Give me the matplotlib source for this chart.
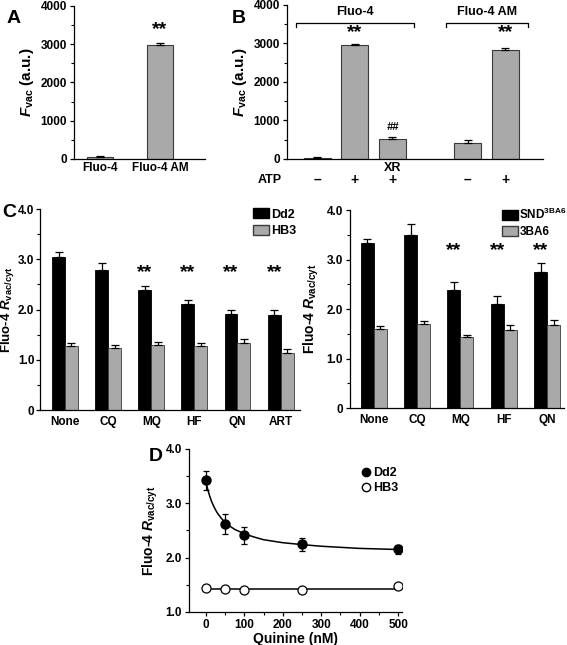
import matplotlib
matplotlib.use("Agg")
import matplotlib.pyplot as plt
from matplotlib.patches import Patch
from matplotlib.lines import Line2D
import numpy as np

plt.rcParams["font.family"] = ["Liberation Sans", "DejaVu Sans"]
plt.rcParams["font.weight"] = "bold"
plt.rcParams["axes.labelweight"] = "bold"
plt.rcParams["mathtext.fontset"] = "custom"
plt.rcParams["mathtext.rm"] = "Liberation Sans:bold"
plt.rcParams["mathtext.it"] = "Liberation Sans:italic:bold"
plt.rcParams["mathtext.bf"] = "Liberation Sans:bold"

# --- panel A
a_labels = ["Fluo-4", "Fluo-4 AM"]
a_vals = [40, 2980]
a_err = [30, 45]

# --- panel B
b_pos = [0, 1, 2, 4, 5]
b_vals = [30, 2950, 520, 420, 2840]
b_err = [25, 35, 55, 85, 35]
b_atp = ["\u2013", "+", "+", "\u2013", "+"]

# --- panel C (left)
cl_drugs = ["None", "CQ", "MQ", "HF", "QN", "ART"]
cl_dd2 = [3.05, 2.78, 2.38, 2.12, 1.91, 1.89]
cl_dd2_err = [0.10, 0.14, 0.08, 0.06, 0.08, 0.10]
cl_hb3 = [1.27, 1.23, 1.30, 1.27, 1.33, 1.14]
cl_hb3_err = [0.06, 0.07, 0.06, 0.06, 0.08, 0.07]
cl_stars = [2, 3, 4, 5]

# --- panel C (right)
cr_drugs = ["None", "CQ", "MQ", "HF", "QN"]
cr_snd = [3.33, 3.49, 2.38, 2.11, 2.74]
cr_snd_err = [0.08, 0.23, 0.17, 0.15, 0.19]
cr_3ba6 = [1.59, 1.70, 1.43, 1.57, 1.68]
cr_3ba6_err = [0.06, 0.06, 0.05, 0.10, 0.09]
cr_stars = [2, 3, 4]

# --- panel D
d_conc = [0, 50, 100, 250, 500]
d_dd2 = [3.42, 2.62, 2.41, 2.25, 2.15]
d_dd2_err = [0.18, 0.18, 0.15, 0.12, 0.08]
d_hb3 = [1.45, 1.42, 1.41, 1.41, 1.47]
d_hb3_err = [0.05, 0.03, 0.04, 0.03, 0.05]
fit_x = [0, 5, 10, 15, 20, 25, 30, 40, 50, 60, 75, 100, 125, 150, 200, 250, 300, 350, 400, 450, 500]
fit_dd2 = [3.40, 3.25, 3.13, 3.03, 2.95, 2.88, 2.82, 2.725, 2.65, 2.59, 2.52, 2.44, 2.38,
           2.33, 2.275, 2.24, 2.21, 2.19, 2.17, 2.16, 2.15]
fit_hb3_x = [0, 500]
fit_hb3 = [1.415, 1.415]

GRAY = "#a9a9a9"
EDGE = "#3a3a3a"
TICK = 8.5


def style(ax):
    for s in ("top", "right"):
        ax.spines[s].set_visible(False)
    for s in ("left", "bottom"):
        ax.spines[s].set_linewidth(0.9)
    ax.tick_params(axis="both", which="major", labelsize=TICK, length=3, width=0.9, pad=2)
    ax.tick_params(axis="both", which="minor", length=2, width=0.8)


def up_err(ax, x, y, e):
    ax.errorbar(x, y, yerr=[np.zeros(len(e)), e], fmt="none", ecolor="black",
                elinewidth=0.9, capsize=3, capthick=0.9)


fig = plt.figure(figsize=(5.67, 6.45), dpi=100)

# ---------------- A
axA = fig.add_axes([0.1305, 0.7535, 0.231, 0.2372])
style(axA)
xa = np.arange(len(a_vals))
axA.bar(xa, a_vals, width=0.43, color=GRAY, edgecolor=EDGE, linewidth=0.8)
up_err(axA, xa, a_vals, a_err)
axA.set_xlim(-0.43, 1.75)
axA.set_ylim(0, 4000)
axA.set_yticks([0, 1000, 2000, 3000, 4000])
axA.set_yticks([500, 1500, 2500, 3500], minor=True)
axA.set_xticks(xa)
axA.set_xticklabels(a_labels)
axA.tick_params(axis="x", length=0)
axA.text(1, 3373, "**", ha="center", va="center", fontsize=14)
axA.set_ylabel(r"$\mathit{F}_{\mathrm{vac}}$ (a.u.)", fontsize=11, labelpad=3)
fig.text(0.012, 0.985, "A", fontsize=14, va="top")

# ---------------- B
axB = fig.add_axes([0.5062, 0.7535, 0.4515, 0.2388])
style(axB)
axB.bar(b_pos, b_vals, width=0.72, color=GRAY, edgecolor=EDGE, linewidth=0.8)
up_err(axB, b_pos, b_vals, b_err)
axB.set_xlim(-0.8, 6.0)
axB.set_ylim(0, 4000)
axB.set_yticks([0, 1000, 2000, 3000, 4000])
axB.set_yticks([500, 1500, 2500, 3500], minor=True)
axB.set_xticks([])
axB.set_ylabel(r"$\mathit{F}_{\mathrm{vac}}$ (a.u.)", fontsize=11, labelpad=3)
for x0, x1, lab in [(-0.56, 2.56, "Fluo-4"), (3.41, 5.6, "Fluo-4 AM")]:
    axB.plot([x0, x0, x1, x1], [3430, 3532, 3532, 3430], color="black", lw=0.9, clip_on=False)
    axB.text((x0 + x1) / 2, 3650, lab, ha="center", va="bottom", fontsize=9)
axB.text(1, 3273, "**", ha="center", va="center", fontsize=14)
axB.text(5, 3273, "**", ha="center", va="center", fontsize=14)
axB.text(2, 830, "##", ha="center", va="center", fontsize=8, style="italic")
trB = axB.get_xaxis_transform()
axB.text(2, -0.058, "XR", ha="center", va="center", fontsize=9, transform=trB)
axB.text(-1.25, -0.136, "ATP", ha="center", va="center", fontsize=9, transform=trB)
for p, s in zip(b_pos, b_atp):
    axB.text(p, -0.136, s, ha="center", va="center", fontsize=10, transform=trB)
fig.text(0.408, 0.985, "B", fontsize=14, va="top")

# ---------------- C left
axC = fig.add_axes([0.0705, 0.3643, 0.4586, 0.3116])
style(axC)
axC.tick_params(axis="y", which="major", pad=1)
xc = np.arange(len(cl_drugs))
w = 0.3
axC.bar(xc - w / 2, cl_dd2, width=w, color="black", edgecolor="black", linewidth=0.6)
axC.bar(xc + w / 2, cl_hb3, width=w, color=GRAY, edgecolor=EDGE, linewidth=0.6)
up_err(axC, xc - w / 2, cl_dd2, cl_dd2_err)
up_err(axC, xc + w / 2, cl_hb3, cl_hb3_err)
axC.set_xlim(-0.58, 5.45)
axC.set_ylim(0, 4)
axC.set_yticks([0, 1, 2, 3, 4])
axC.set_yticklabels(["0", "1.0", "2.0", "3.0", "4.0"])
axC.set_yticks([0.5, 1.5, 2.5, 3.5], minor=True)
axC.set_xticks(xc)
axC.set_xticklabels(cl_drugs)
axC.tick_params(axis="x", length=0, pad=4)
for i in cl_stars:
    axC.text(i - w / 2, 2.73, "**", ha="center", va="center", fontsize=14)
axC.set_ylabel(r"Fluo-4 $\mathit{R}_{\mathrm{vac/cyt}}$", fontsize=9.5)
axC.yaxis.set_label_coords(-0.092, 0.5)
axC.legend(handles=[Patch(facecolor="black", edgecolor="black", label="Dd2"),
                    Patch(facecolor=GRAY, edgecolor=EDGE, label="HB3")],
           loc="upper left", bbox_to_anchor=(0.8, 1.03), frameon=False, fontsize=9,
           handlelength=1.3, handleheight=0.9, handletextpad=0.15, labelspacing=0.35,
           borderaxespad=0)
fig.text(0.004, 0.684, "C", fontsize=14, va="top")

# ---------------- C right
axR = fig.add_axes([0.6173, 0.3674, 0.3774, 0.307])
style(axR)
xr = np.arange(len(cr_drugs))
axR.bar(xr - w / 2, cr_snd, width=w, color="black", edgecolor="black", linewidth=0.6)
axR.bar(xr + w / 2, cr_3ba6, width=w, color=GRAY, edgecolor=EDGE, linewidth=0.6)
up_err(axR, xr - w / 2, cr_snd, cr_snd_err)
up_err(axR, xr + w / 2, cr_3ba6, cr_3ba6_err)
axR.set_xlim(-0.55, 4.39)
axR.set_ylim(0, 4)
axR.set_yticks([0, 1, 2, 3, 4])
axR.set_yticklabels(["0", "1.0", "2.0", "3.0", "4.0"])
axR.set_yticks([0.5, 1.5, 2.5, 3.5], minor=True)
axR.set_xticks(xr)
axR.set_xticklabels(cr_drugs)
axR.tick_params(axis="x", length=0, pad=4)
for i in cr_stars:
    axR.text(i - w / 2, 3.19, "**", ha="center", va="center", fontsize=14)
axR.set_ylabel(r"Fluo-4 $\mathit{R}_{\mathrm{vac/cyt}}$", fontsize=10, labelpad=4)
axR.legend(handles=[Patch(facecolor="black", edgecolor="black", label=r"SND$^{\mathrm{3BA6}}$"),
                    Patch(facecolor=GRAY, edgecolor=EDGE, label="3BA6")],
           loc="upper left", bbox_to_anchor=(0.69, 1.04), frameon=False, fontsize=8.5,
           handlelength=1.3, handleheight=0.9, handletextpad=0.15, labelspacing=0.35,
           borderaxespad=0)

# ---------------- D
axD = fig.add_axes([0.3333, 0.0512, 0.3757, 0.2527])
style(axD)
axD.plot(fit_x, fit_dd2, color="black", lw=1.1, zorder=2)
axD.plot(fit_hb3_x, fit_hb3, color="black", lw=1.1, zorder=2)
axD.errorbar(d_conc, d_dd2, yerr=d_dd2_err, fmt="o", color="black", mfc="black", mec="black",
             ms=6.5, elinewidth=0.9, capsize=2.5, capthick=0.9, zorder=3)
axD.errorbar(d_conc, d_hb3, yerr=d_hb3_err, fmt="o", color="black", mfc="white", mec="black",
             ms=6.5, mew=0.9, elinewidth=0.9, capsize=2.5, capthick=0.9, zorder=3)
axD.set_xlim(-44, 510)
axD.set_ylim(1, 4)
axD.set_yticks([1, 2, 3, 4])
axD.set_yticklabels(["1.0", "2.0", "3.0", "4.0"])
axD.set_yticks([1.5, 2.5, 3.5], minor=True)
axD.set_xticks([0, 100, 200, 300, 400, 500])
axD.set_xticks([50, 150, 250, 350, 450], minor=True)
axD.set_xlabel("Quinine (nM)", fontsize=10, labelpad=1)
axD.set_ylabel(r"Fluo-4 $\mathit{R}_{\mathrm{vac/cyt}}$", fontsize=10, labelpad=4)
axD.legend(handles=[Line2D([], [], marker="o", ls="none", mfc="black", mec="black", ms=6, label="Dd2"),
                    Line2D([], [], marker="o", ls="none", mfc="white", mec="black", ms=6, label="HB3")],
           loc="upper left", bbox_to_anchor=(0.79, 0.92), frameon=False, fontsize=9,
           handlelength=0.6, handletextpad=0.3, labelspacing=0.25, borderaxespad=0)
fig.text(0.262, 0.305, "D", fontsize=14, va="top")

fig.savefig("out.png", dpi=100)
